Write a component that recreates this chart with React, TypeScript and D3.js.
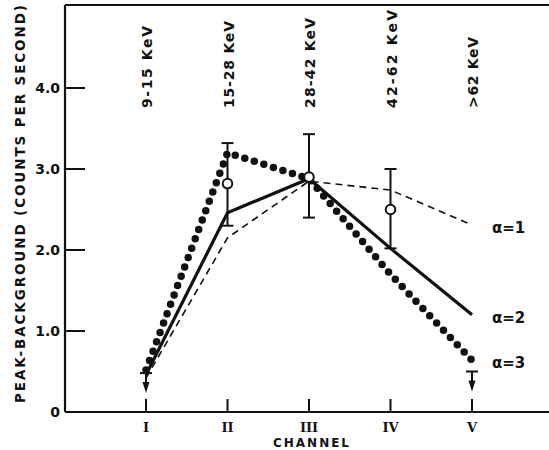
import * as d3 from "d3";

// channels on the x axis and the energy band of each one
const channels = ["I", "II", "III", "IV", "V"];
const energyBands = ["9-15 KeV", "15-28 KeV", "28-42 KeV", "42-62 KeV", ">62 KeV"];

// model curves (counts per second) for each alpha
const alpha1 = [0.42, 2.15, 2.85, 2.74, 2.31];
const alpha2 = [0.46, 2.46, 2.88, 2.02, 1.2];
const alpha3 = [0.52, 3.2, 2.88, 1.7, 0.64];
const seriesLabels = ["α=1", "α=2", "α=3"];

// measured points with error bars
const obsChannels = ["II", "III", "IV"];
const obsValues = [2.82, 2.9, 2.5];
const obsLow = [2.3, 2.4, 2.02];
const obsHigh = [3.32, 3.43, 3.0];

// upper limits
const limitChannels = ["I", "V"];
const limitValues = [0.48, 0.5];

const yTicks = [0, 1, 2, 3, 4];
const yTickLabels = ["0", "1.0", "2.0", "3.0", "4.0"];

const W = 549;
const H = 450;
const left = 65;
const top = 5;
const bottom = 412;

const font = "'DejaVu Sans', sans-serif";

const App = () => {
  const x = d3.scalePoint<string>().domain(channels).range([146, 472]);
  const y = d3.scaleLinear().domain([0, 4]).range([bottom, 88]);

  const line = d3
    .line<number>()
    .x((d, i) => x(channels[i]) as number)
    .y((d) => y(d));

  const ends = [alpha1, alpha2, alpha3].map((s) => y(s[s.length - 1]));
  const bandLengths = [82, 87, 90, 98, 71];

  return (
    <svg
      width={W}
      height={H}
      style={{ position: "absolute", left: 0, top: 0, background: "#fff" }}
    >
      {/* frame */}
      <line x1={left} x2={W} y1={top} y2={top} stroke="#111" strokeWidth={2} />
      <line x1={left} x2={left} y1={top} y2={bottom} stroke="#111" strokeWidth={2.2} />
      <line x1={left} x2={W} y1={bottom} y2={bottom} stroke="#111" strokeWidth={2.2} />

      {/* y ticks */}
      {yTicks.map((t, i) => (
        <g key={t}>
          {t > 0 && (
            <line x1={left} x2={left + 20} y1={y(t)} y2={y(t)} stroke="#111" strokeWidth={2} />
          )}
          <text
            x={left - 5}
            y={y(t)}
            textAnchor="end"
            dominantBaseline="central"
            fontFamily={font}
            fontWeight="bold"
            fontSize={14}
            fill="#111"
          >
            {yTickLabels[i]}
          </text>
        </g>
      ))}

      {/* x ticks */}
      {channels.map((c) => (
        <g key={c}>
          <line
            x1={x(c)}
            x2={x(c)}
            y1={bottom}
            y2={bottom - 13}
            stroke="#111"
            strokeWidth={2}
          />
          <text
            x={x(c)}
            y={427}
            textAnchor="middle"
            dominantBaseline="central"
            fontFamily="'DejaVu Serif', serif"
            fontWeight="bold"
            fontSize={13}
            fill="#111"
          >
            {c}
          </text>
        </g>
      ))}

      <text
        x={312}
        y={443}
        textAnchor="middle"
        dominantBaseline="central"
        fontFamily={font}
        fontWeight="bold"
        fontSize={12}
        letterSpacing={2}
        fill="#111"
      >
        CHANNEL
      </text>

      <text
        transform={`translate(20,204) rotate(-90)`}
        textAnchor="middle"
        dominantBaseline="central"
        fontFamily={font}
        fontWeight="bold"
        fontSize={13.5}
        textLength={398}
        lengthAdjust="spacing"
        fill="#111"
      >
        PEAK-BACKGROUND (COUNTS PER SECOND)
      </text>

      {/* energy bands */}
      {energyBands.map((b, i) => (
        <text
          key={b}
          transform={`translate(${(x(channels[i]) as number) + 1},108) rotate(-90)`}
          textAnchor="start"
          dominantBaseline="central"
          fontFamily={font}
          fontWeight="bold"
          fontSize={14}
          textLength={bandLengths[i]}
          lengthAdjust="spacing"
          fill="#111"
        >
          {b}
        </text>
      ))}

      {/* curves */}
      <path
        d={line(alpha1) ?? ""}
        fill="none"
        stroke="#111"
        strokeWidth={1.6}
        strokeDasharray="7 5"
      />
      <path d={line(alpha2) ?? ""} fill="none" stroke="#111" strokeWidth={3.2} />
      <path
        d={line(alpha3) ?? ""}
        fill="none"
        stroke="#111"
        strokeWidth={7.5}
        strokeDasharray="0 10"
        strokeLinecap="round"
      />

      {seriesLabels.map((s, i) => (
        <text
          key={s}
          x={492}
          y={ends[i] + 3}
          dominantBaseline="central"
          fontFamily={font}
          fontWeight="bold"
          fontSize={15}
          fill="#111"
        >
          {s}
        </text>
      ))}

      {/* measured points */}
      {obsChannels.map((c, i) => {
        const cx = x(c) as number;
        return (
          <g key={c}>
            <line x1={cx} x2={cx} y1={y(obsHigh[i])} y2={y(obsLow[i])} stroke="#111" strokeWidth={2} />
            <line x1={cx - 6} x2={cx + 6} y1={y(obsHigh[i])} y2={y(obsHigh[i])} stroke="#111" strokeWidth={2} />
            <line x1={cx - 6} x2={cx + 6} y1={y(obsLow[i])} y2={y(obsLow[i])} stroke="#111" strokeWidth={2} />
            <circle cx={cx} cy={y(obsValues[i])} r={4.8} fill="#fff" stroke="#111" strokeWidth={2} />
          </g>
        );
      })}

      {/* upper limits */}
      {limitChannels.map((c, i) => {
        const cx = x(c) as number;
        const yy = y(limitValues[i]);
        return (
          <g key={c}>
            <line x1={cx - 6} x2={cx + 6} y1={yy} y2={yy} stroke="#111" strokeWidth={2} />
            <line x1={cx} x2={cx} y1={yy} y2={yy + 12} stroke="#111" strokeWidth={2} />
            <path d={`M${cx - 3.5},${yy + 9} L${cx + 3.5},${yy + 9} L${cx},${yy + 20} Z`} fill="#111" />
          </g>
        );
      })}
    </svg>
  );
};

export default App;
